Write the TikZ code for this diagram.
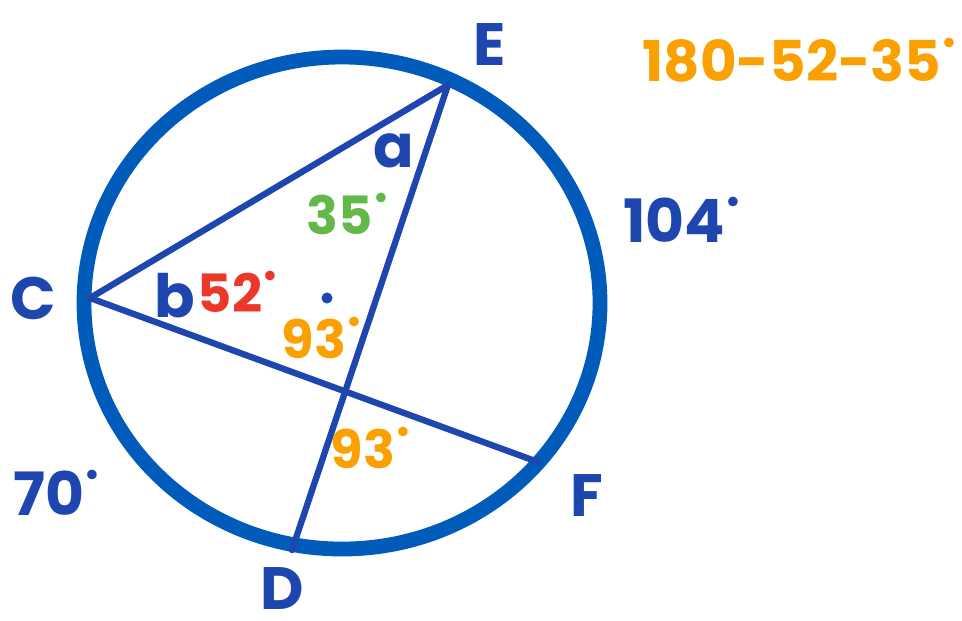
\documentclass[tikz,border=0pt]{standalone}
\usepackage{fontspec}
\setmainfont{Poppins}
\usepackage{xcolor}
\usepackage{tikz}
\usetikzlibrary{positioning,calc}
\definecolor{ringblue}{RGB}{0,91,187}
\definecolor{inkblue}{RGB}{30,70,175}
\definecolor{inkgreen}{RGB}{98,184,72}
\definecolor{inkred}{RGB}{236,56,40}
\definecolor{inkorange}{RGB}{250,160,0}
\newcommand{\dgr}{\raisebox{0.5em}{\fontsize{9}{9}\selectfont•}}
\tikzset{
    ring/.style={
        draw=ringblue,
        line width=4.2pt
    },
    chord/.style={
        draw=inkblue,
        line width=1.8pt,
        line cap=round
    },
    ptlabel/.style={
        text=inkblue,
        inner sep=0pt,
        font=\fontsize{17}{17}\selectfont\bfseries
    },
    anglabel/.style={
        inner sep=0pt,
        font=\fontsize{15}{15}\selectfont\bfseries
    }
}

\begin{document}
\begin{tikzpicture}[x=0.01cm, y=-0.01cm]
\useasboundingbox (0,0) rectangle (962,620);

% circle and centre
\draw[ring] (342,303) ellipse [x radius=258, y radius=246];
\node[circle, fill=inkblue, inner sep=0pt, minimum size=0.11cm] (O) at (327,298) {};

% points on the circle
\coordinate (E) at (448,85);
\coordinate (C) at (90,298);
\coordinate (F) at (538,462);
\coordinate (D) at (292,550);

% chords
\draw[chord] (C) -- (E);
\draw[chord] (C) -- (F);
\draw[chord] (E) -- (D);

% point names
\node[ptlabel] (E-name) at (490,45) {E};
\node[ptlabel] (C-name) at (33,298) {C};
\node[ptlabel] (F-name) at (587,495) {F};
\node[ptlabel] (D-name) at (282,588) {D};

% angles
\node[ptlabel] (a-name) at (394,151) {a};
\node[ptlabel] (b-name) at (175,296) {b};
\node[anglabel, text=inkgreen] (ang-a) at (348,214) {35\dgr};
\node[anglabel, text=inkred] (ang-b) at (238,292) {52\dgr};
\node[anglabel, text=inkorange] (ang-top) at (322,338) {93\dgr};
\node[anglabel, text=inkorange] (ang-bot) at (371,448) {93\dgr};

% arcs
\node[ptlabel] (arc-ef) at (682,220) {104\dgr};
\node[ptlabel] (arc-cd) at (57,493) {70\dgr};

% working
\node[ptlabel, text=inkorange, font=\fontsize{16}{16}\selectfont\bfseries] (sum) at (800,60) {180-52-35\dgr};
\end{tikzpicture}
\end{document}
